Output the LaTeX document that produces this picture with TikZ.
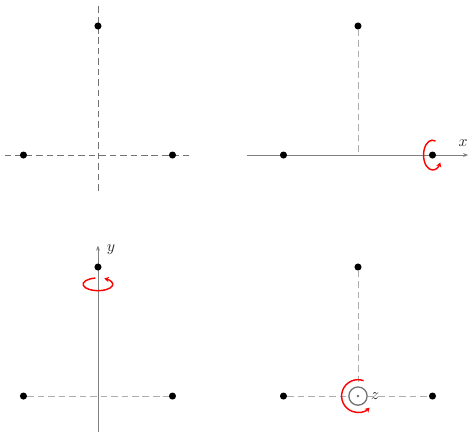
\documentclass[tikz,border=0pt]{standalone}
\usepackage{tikz}
\usetikzlibrary{positioning,arrows.meta,backgrounds}

\begin{document}
\begin{tikzpicture}[
  x=2cm,y=2cm,
  dot/.style={circle,fill=black,inner sep=0pt,minimum size=5.4pt},
  guide/.style={black!32,dash pattern=on 5pt off 3pt,line width=0.7pt},
  guidedark/.style={black!55,dash pattern=on 5pt off 3pt,line width=0.7pt},
  axis/.style={black!50,line width=0.7pt,-{Stealth[length=4pt,width=3pt]}},
  spin/.style={red,line width=1.1pt,-{Stealth[length=3.5pt,width=4pt]}},
  ring/.style={circle,draw=black!55,line width=1pt,inner sep=0pt,minimum size=4.9mm},
  hub/.style={circle,fill=black!55,inner sep=0pt,minimum size=2.2pt},
  lbl/.style={text=black!85,inner sep=2pt,scale=1.2}
]
\useasboundingbox (0,0) rectangle (6.295,5.799);

% top left: the three points only
\begin{scope}[shift={(1.315,3.718)}]
\node[dot] (l1) at (-1,0) {};
\node[dot] (r1) at (1,0) {};
\node[dot] (t1) at (0,1.732) {};
\coordinate (w1) at (-1.25,0);
\coordinate (e1) at (1.25,0);
\coordinate (n1) at (0,2.0);
\coordinate (s1) at (0,-0.5);
\end{scope}

% top right: turning about x
\begin{scope}[shift={(4.805,3.718)}]
\node[dot] (l2) at (-1,0) {};
\node[dot] (r2) at (1,0) {};
\node[dot] (t2) at (0,1.732) {};
\coordinate (o2) at (0,0);
\coordinate (w2) at (-1.49,0);
\coordinate (e2) at (1.48,0);
\node[lbl] (xl) at (1.41,0.16) {$x$};
\end{scope}

% bottom left: turning about y
\begin{scope}[shift={(1.315,0.483)}]
\node[dot] (l3) at (-1,0) {};
\node[dot] (r3) at (1,0) {};
\node[dot] (t3) at (0,1.732) {};
\coordinate (s3) at (0,-0.483);
\coordinate (n3) at (0,2.02);
\coordinate (c3) at (0,1.5);
\node[lbl] (yl) at (0.174,1.96) {$y$};
\end{scope}

% bottom right: turning about z
\begin{scope}[shift={(4.805,0.483)}]
\node[dot] (l4) at (-1,0) {};
\node[dot] (r4) at (1,0) {};
\node[dot] (t4) at (0,1.732) {};
\node[ring] (zc) at (0,0) {};
\node[hub] (zd) at (0,0) {};
\node[lbl,right=0pt of zc] (zl) {$z$};
\end{scope}

\begin{scope}[on background layer]
\draw[guidedark] (w1) -- (e1);
\draw[guidedark] (n1) -- (s1);
\draw[guide] (t2) -- (o2);
\draw[axis] (w2) -- (e2);
\draw[guide] (l3) -- (r3);
\draw[axis] (s3) -- (n3);
\end{scope}
\draw[guide] (l4) -- (zc);
\draw[guide] (zc) -- (r4);
\draw[guide] (t4) -- (zc);

\draw[spin] ([shift={(70:0.12 and 0.2)}]r2.center) arc[start angle=70,end angle=330,x radius=0.12,y radius=0.2];
\draw[spin] ([shift={(100:0.2 and 0.085)}]c3) arc[start angle=100,end angle=425,x radius=0.2,y radius=0.085];
\draw[spin] ([shift={(70:0.22)}]zc.center) arc[start angle=70,end angle=315,radius=0.22];
\end{tikzpicture}
\end{document}
